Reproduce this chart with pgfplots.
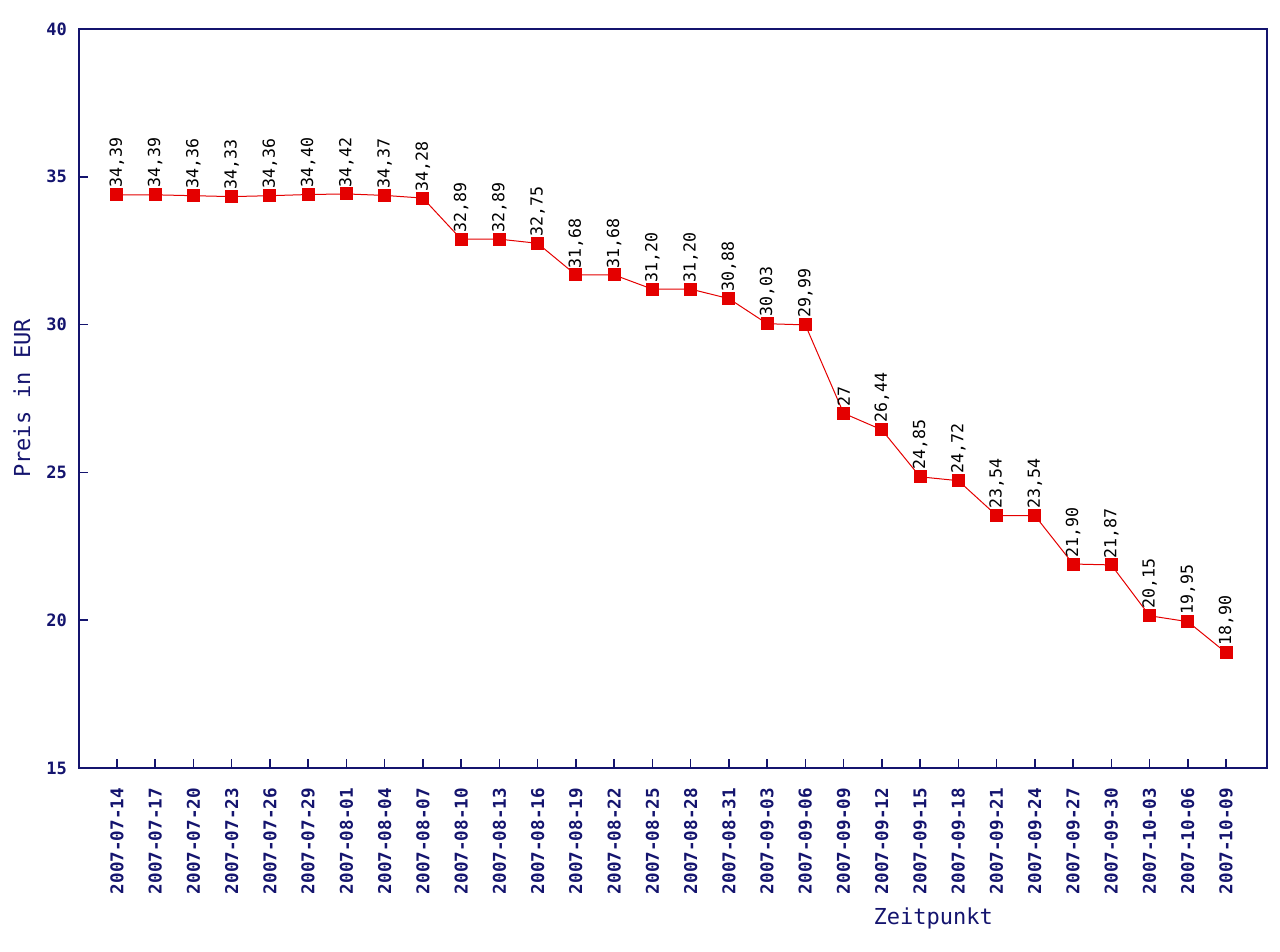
\documentclass[border=0pt]{standalone}
\usepackage{pgfplots}
\pgfplotsset{compat=1.18}
\usepackage{fontspec}
\setmainfont{DejaVu Sans Mono}
\setmonofont{DejaVu Sans Mono}
\definecolor{navy}{RGB}{20,20,110}
\definecolor{pred}{RGB}{228,0,0}
\begin{document}
\begin{tikzpicture}
\useasboundingbox (-39.5pt,-92pt) rectangle (600.5pt,384pt);
\begin{axis}[
  at={(0,0)}, anchor=south west,
  scale only axis, width=594pt, height=369.5pt,
  xmin=-0.99, xmax=30.07, ymin=15, ymax=40,
  ytick={15,20,25,30,35,40},
  xtick={0,...,29},
  xticklabels={2007-07-14,2007-07-17,2007-07-20,2007-07-23,2007-07-26,2007-07-29,2007-08-01,2007-08-04,2007-08-07,2007-08-10,2007-08-13,2007-08-16,2007-08-19,2007-08-22,2007-08-25,2007-08-28,2007-08-31,2007-09-03,2007-09-06,2007-09-09,2007-09-12,2007-09-15,2007-09-18,2007-09-21,2007-09-24,2007-09-27,2007-09-30,2007-10-03,2007-10-06,2007-10-09},
  /pgf/number format/assume math mode=true,
  axis line style={navy, line width=1pt},
  tick style={navy, line width=0.8pt},
  tick align=inside, major tick length=4.5pt,
  xtick pos=bottom, ytick pos=left,
  xticklabel style={rotate=90, anchor=east, font=\fontsize{8.8}{9}\selectfont\bfseries, text=navy},
  xticklabel shift=6.5pt,
  yticklabel style={font=\fontsize{8.5}{9}\selectfont\bfseries, text=navy, xshift=-2.5pt},
  xlabel={Zeitpunkt},
  xlabel style={at={(axis description cs:0.719,0)}, anchor=center, yshift=-75pt, font=\fontsize{11}{12}\selectfont, text=navy},
  ylabel={Preis in EUR},
  ylabel style={at={(axis description cs:-0.048,0.5)}, anchor=center, font=\fontsize{11}{12}\selectfont, text=navy},
  nodes near coords,
  point meta=explicit symbolic,
  every node near coord/.append style={rotate=90, anchor=west, inner xsep=3.2pt, inner ysep=1pt, font=\fontsize{8.3}{9}\selectfont, text=black},
]
\addplot[color=pred, line width=0.5pt, mark=square*, mark size=3pt, mark options={fill=pred, draw=pred}]
table[x=x, y=y, meta=label] {
x y label
0 34.39 34,39
1 34.39 34,39
2 34.36 34,36
3 34.33 34,33
4 34.36 34,36
5 34.40 34,40
6 34.42 34,42
7 34.37 34,37
8 34.28 34,28
9 32.89 32,89
10 32.89 32,89
11 32.75 32,75
12 31.68 31,68
13 31.68 31,68
14 31.20 31,20
15 31.20 31,20
16 30.88 30,88
17 30.03 30,03
18 29.99 29,99
19 27.00 27
20 26.44 26,44
21 24.85 24,85
22 24.72 24,72
23 23.54 23,54
24 23.54 23,54
25 21.90 21,90
26 21.87 21,87
27 20.15 20,15
28 19.95 19,95
29 18.90 18,90
};
\end{axis}
\end{tikzpicture}
\end{document}
